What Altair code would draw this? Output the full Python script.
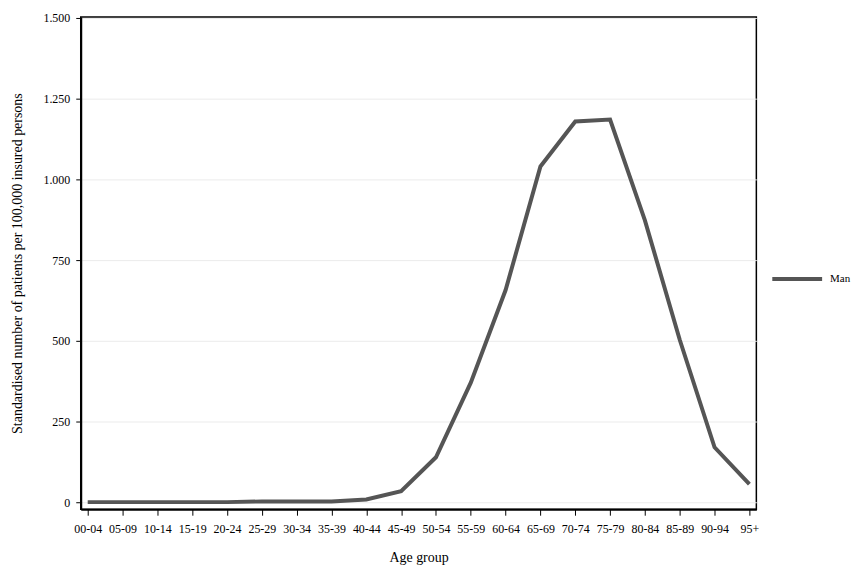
import altair as alt
import pandas as pd

age_groups = ["00-04", "05-09", "10-14", "15-19", "20-24", "25-29", "30-34",
              "35-39", "40-44", "45-49", "50-54", "55-59", "60-64", "65-69",
              "70-74", "75-79", "80-84", "85-89", "90-94", "95+"]
values = [0, 0, 0, 0, 0, 2, 2, 2, 8, 34, 139, 370, 657, 1040, 1179, 1185,
          873, 503, 170, 56]
series = ["Man"] * len(age_groups)

df = pd.DataFrame({"age": age_groups, "value": values, "sex": series})

FONT = "Liberation Serif"

chart = alt.Chart(df).mark_line(strokeWidth=4, strokeJoin="miter").encode(
    x=alt.X("age:N", sort=age_groups,
            scale=alt.Scale(type="point", padding=0.2),
            axis=alt.Axis(title="Age group", labelAngle=0, grid=False,
                          tickSize=6, labelPadding=8, titlePadding=16,
                          labelFontSize=12, titleFontSize=14,
                          titleFontWeight="normal", domainWidth=2,
                          domainColor="#000000", tickColor="#000000",
                          labelColor="#000000", titleColor="#000000",
                          labelFont=FONT, titleFont=FONT)),
    y=alt.Y("value:Q",
            scale=alt.Scale(domain=[-22, 1503], nice=False, zero=False),
            axis=alt.Axis(title="Standardised number of patients per 100,000 insured persons",
                          values=[0, 250, 500, 750, 1000, 1250, 1500],
                          labelExpr="replace(format(datum.value, ','), ',', '.')",
                          tickSize=5, labelPadding=6, titlePadding=18,
                          labelFontSize=12, titleFontSize=14,
                          titleFontWeight="normal", domainWidth=2,
                          domainColor="#000000", tickColor="#000000",
                          labelColor="#000000", titleColor="#000000",
                          gridColor="#ebebeb", gridWidth=1,
                          labelFont=FONT, titleFont=FONT)),
    color=alt.Color("sex:N",
                    scale=alt.Scale(domain=["Man"], range=["#555555"]),
                    legend=alt.Legend(title=None, orient="none",
                                      legendX=692, legendY=236,
                                      symbolType="stroke", symbolSize=2500,
                                      symbolStrokeWidth=4, labelFont=FONT,
                                      labelFontSize=11, labelColor="#000000",
                                      labelOffset=6)),
).properties(
    width=678, height=494,
    autosize=alt.AutoSizeParams(type="none"),
    padding={"left": 73, "top": 8, "right": 100, "bottom": 60},
).configure_view(stroke="#000000", strokeWidth=1.5)

chart.save("out.html", embed_options={"renderer": "svg", "actions": False})
